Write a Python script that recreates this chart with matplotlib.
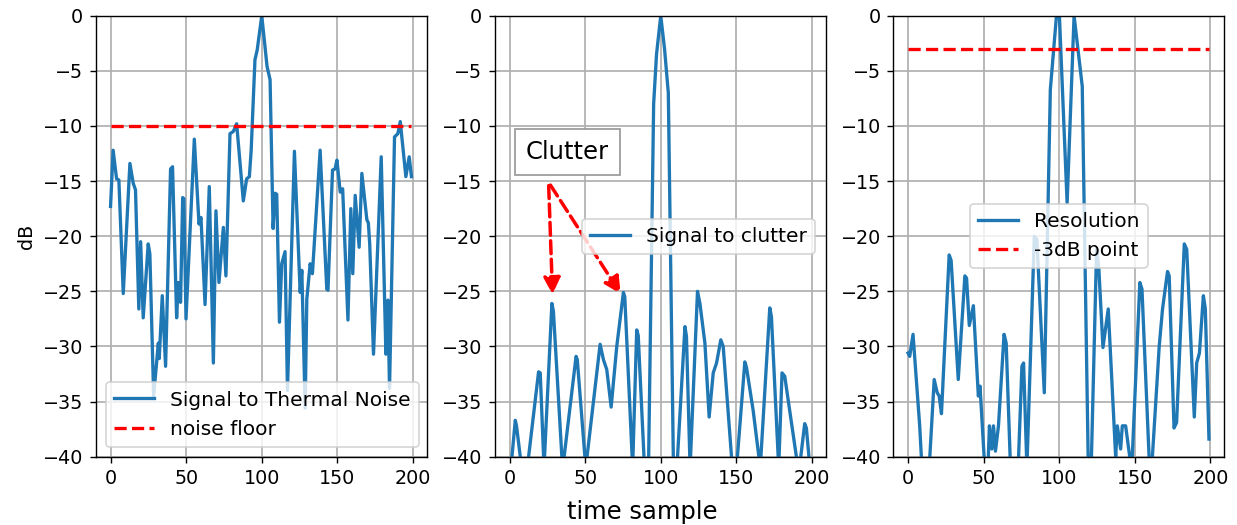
import numpy as np
import matplotlib
matplotlib.use("Agg")
import matplotlib.pyplot as plt

# ---- data (vertices of each trace, dB) ----
# panel 1: signal to thermal noise
thermal_x = [0, 1.7, 4, 5.5, 8.4, 12.8, 15, 16.5, 18.7, 19.9,
             21.6, 24.9, 26, 28.5, 31.6, 32.2, 34.2, 36.4, 39.7, 41,
             43.7, 44.8, 46.3, 47.7, 48.5, 49.9, 55.4, 58.5, 59.8, 62.5,
             65.3, 68, 69.7, 71.7, 74.6, 76.3, 79, 81.2, 83.4, 87.8,
             90, 91.8, 93, 95.5, 97, 100, 103.5, 105.5, 107.5, 108.8,
             109.9, 111.7, 113.2, 115.4, 117, 121.6, 125.4, 126.5, 128.7, 129.8,
             132, 133.5, 138.6, 143, 143.8, 146.8, 148.5, 149.7, 151.9, 153.5,
             157, 158.9, 160.2, 161.8, 164.4, 166.2, 169.5, 170.5, 171.4, 173.9,
             179, 182.1, 183.4, 184.5, 187.8, 190, 191.6, 195.3, 197.5, 199]
thermal_db = [-17.3, -12.2, -14.8, -14.9, -25.2, -13.4, -15.2, -15.8, -26.6, -20.5,
              -27.4, -20.7, -21.6, -34.5, -29.7, -31.1, -25.4, -31.8, -13.9, -13.7,
              -27.4, -24.2, -26, -16.5, -16.6, -27.5, -11.2, -18.9, -18.3, -26.2,
              -15.5, -31.5, -17.7, -24.2, -19.2, -23.6, -10.7, -10.5, -9.8, -16.8,
              -14.8, -14.6, -12.2, -4, -3.1, 0, -4.6, -5.8, -19.3, -16.1,
              -16.2, -27.8, -22.5, -21.4, -34, -12.3, -25.1, -23.1, -35.6, -25.7,
              -22.5, -23.4, -12.2, -24.8, -24.9, -14, -13.9, -13.1, -16, -15.7,
              -27.6, -17.5, -23.4, -16.3, -21, -14.3, -18.5, -18.8, -20.7, -30.7,
              -12.8, -30.7, -25.8, -33.8, -11, -10.7, -9.6, -14.6, -12.8, -14.6]
noise_floor = -10

# panel 2: signal to clutter
clutter_x = [0, 1.6, 3.8, 4.6, 7.1, 9.8, 12.6, 19.2, 20.3, 22.8,
             28, 29, 34.6, 35.4, 36.1, 44, 44.8, 50.4, 59.9, 62.1,
             64.3, 67.2, 70.9, 75.3, 76.2, 81.4, 84.1, 85.1, 88.9, 90.5,
             92, 95.3, 97.2, 100, 102.5, 105, 108.3, 109.7, 111.1, 116,
             117, 119.4, 124.3, 125.9, 129.2, 132, 134.7, 136.9, 139.7, 141.3,
             146.8, 148.7, 150.7, 155.6, 156.7, 161.1, 165.8, 172.1, 173.2, 178,
             180.2, 182, 184.2, 189.7, 191.2, 192.6, 195.2, 196.3, 198, 199]
clutter_db = [-46, -40, -36.7, -37.2, -40, -47, -40, -32.3, -32.4, -41,
              -26.1, -26.8, -40, -42, -40, -30.9, -31.2, -41, -29.8, -31.2,
              -32.1, -35.5, -30, -25.1, -25.5, -41, -28.5, -29, -40, -43,
              -40, -8, -3.5, 0, -3, -7, -40, -47, -40, -28.2,
              -29.1, -41, -25, -26.1, -29.7, -36.4, -32.4, -31.5, -29.4, -30,
              -40, -47, -40, -31.4, -31.9, -35.8, -41, -26.5, -27.3, -41,
              -32.4, -32.7, -34.8, -40, -44, -40, -37, -37.4, -40, -43]

# panel 3: resolution
resol_x = [0, 1.1, 3.3, 7.7, 8.8, 11.6, 14.4, 17.3, 19.3, 20.6,
           22.1, 27.2, 28.5, 33.2, 37.6, 38.7, 40.5, 43.2, 46.5, 47.6,
           50.3, 51.7, 53.1, 53.8, 55.4, 56.5, 57.8, 59.8, 63.5, 64.9,
           67.5, 70.3, 73.1, 75.3, 76.4, 78.6, 83.5, 85.2, 90.1, 94.1,
           98.1, 100.1, 105.2, 109.8, 115.2, 119.1, 120.2, 121.3, 124.7, 126.2,
           128.9, 132.4, 137.3, 138.4, 140.6, 141.7, 143.9, 146.6, 147.5, 148.3,
           153.3, 154.7, 159.4, 160.5, 161.6, 166.1, 168.3, 171.6, 172.7, 175.9,
           177.6, 182.7, 184.3, 189.3, 190.9, 192.7, 195.3, 196.6, 199]
resol_db = [-30.6, -30.9, -28.9, -37.2, -40, -46, -40, -33, -34.2, -34.5,
            -36.1, -21.7, -22.2, -33, -23.6, -23.8, -28.1, -26.3, -34.5, -33.6,
            -40, -42, -40, -37.2, -39.3, -37.2, -39.5, -37.2, -28.9, -29.7,
            -40, -46, -40, -31.8, -31.5, -41, -20, -20.3, -34.2, -6.7,
            -0.1, 0, -17, 0, -6.4, -40, -43, -40, -21.1, -23,
            -30.1, -26.6, -40, -37.2, -39.3, -37.2, -37.2, -40, -42, -40,
            -24.2, -24.8, -40, -42, -40, -30, -26.6, -23.2, -23.6, -37.4,
            -36.9, -20.7, -21.2, -36.4, -31.5, -30.6, -25.4, -26.6, -38.4]
half_power = -3

# clutter annotation
clutter_label_pos = (38, -12.4)
arrow_start = (25.8, -15.1)
arrow_targets = [(28.5, -25.6), (74.8, -25.5)]

x_ticks = [0, 50, 100, 150, 200]
y_ticks = [0, -5, -10, -15, -20, -25, -30, -35, -40]

blue = '#1f77b4'
LW = 1.9

fig = plt.figure(figsize=(1237 / 125, 525 / 125), dpi=125)
lefts = [95.5 / 1237, 494.5 / 1237, 893 / 1237]
axes = [fig.add_axes([l, 68.3 / 525, 331 / 1237, 441 / 525]) for l in lefts]
ax1, ax2, ax3 = axes

ax1.plot(thermal_x, thermal_db, color=blue, lw=LW, label='Signal to Thermal Noise')
ax1.plot([thermal_x[0], thermal_x[-1]], [noise_floor, noise_floor], 'r--', lw=LW,
         label='noise floor')
ax1.legend(loc='lower left', fontsize=11.6)
ax1.set_ylabel('dB', fontsize=11)

ax2.plot(clutter_x, clutter_db, color=blue, lw=LW, label='Signal to clutter')
ax2.legend(loc='center right', fontsize=11.6)
ax2.text(*clutter_label_pos, 'Clutter', fontsize=14, ha='center', va='center',
         bbox=dict(boxstyle='square,pad=0.45', fc='white', ec='0.6'))
for target in arrow_targets:
    ax2.annotate('', xy=target, xytext=arrow_start,
                 arrowprops=dict(arrowstyle='-|>', color='red', ls='--', lw=2,
                                 mutation_scale=20))

ax3.plot(resol_x, resol_db, color=blue, lw=LW, label='Resolution')
ax3.plot([resol_x[0], resol_x[-1]], [half_power, half_power], 'r--', lw=LW,
         label='-3dB point')
ax3.legend(loc='center', fontsize=11.6)

for ax in axes:
    ax.set_ylim(-40, 0)
    ax.set_xlim(-9.95, 208.95)
    ax.set_xticks(x_ticks)
    ax.set_yticks(y_ticks)
    ax.tick_params(labelsize=11)
    ax.grid(True, lw=1.0)

fig.text(642 / 1237, 1 - 512 / 525, 'time sample', fontsize=14, ha='center', va='center')

fig.savefig('out.png', dpi=125)
